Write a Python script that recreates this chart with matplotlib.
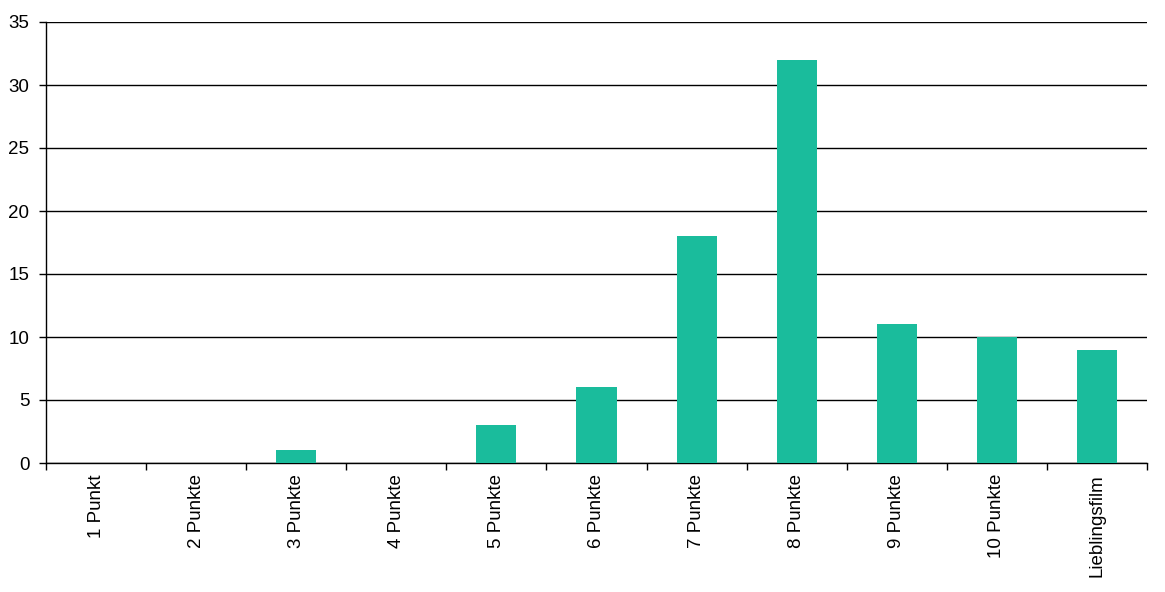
import matplotlib.pyplot as plt
import numpy as np

plt.rcParams['font.family'] = ['Liberation Sans', 'DejaVu Sans']

categories = ['1 Punkt', '2 Punkte', '3 Punkte', '4 Punkte', '5 Punkte', '6 Punkte',
              '7 Punkte', '8 Punkte', '9 Punkte', '10 Punkte', 'Lieblingsfilm']
values = [0, 0, 1, 0, 3, 6, 18, 32, 11, 10, 9]

fig = plt.figure(figsize=(11.65, 5.92), dpi=100)
ax = fig.add_axes([46 / 1165, 1 - 463 / 592, (1147 - 46) / 1165, (463 - 22) / 592])

x = np.arange(len(categories))
ax.bar(x, values, width=0.4, color='#1ABC9C', zorder=3)

ax.set_xlim(-0.5, len(categories) - 0.5)
ax.set_ylim(0, 35)
ax.set_yticks(range(0, 36, 5))
ax.yaxis.grid(True, color='black', linewidth=1)
ax.set_axisbelow(True)

# category labels centered, ticks at the boundaries
ax.set_xticks(np.arange(len(categories) + 1) - 0.5)
ax.set_xticklabels([])
ax.set_xticks(x, minor=True)
ax.set_xticklabels(categories, minor=True, rotation=90, fontsize=13.5)
ax.tick_params(axis='x', which='minor', length=0, pad=8)
ax.tick_params(axis='x', which='major', length=5, width=1, direction='out')
ax.tick_params(axis='y', length=5, width=1, direction='out', labelsize=13.5, pad=7)

ax.spines['top'].set_visible(False)
ax.spines['right'].set_visible(False)
ax.spines['left'].set_linewidth(1)
ax.spines['bottom'].set_linewidth(1)

fig.savefig('out.png', dpi=100)
